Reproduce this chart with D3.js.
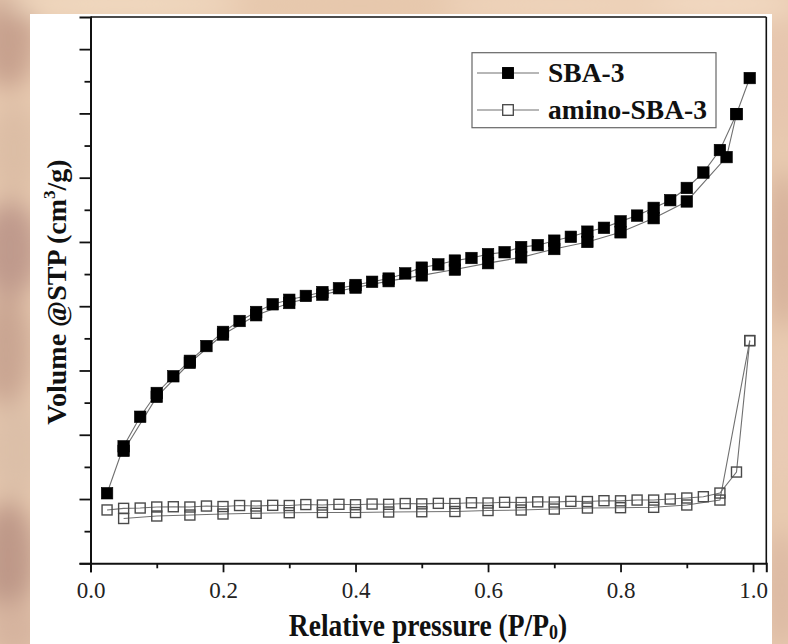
<!DOCTYPE html>
<html><head><meta charset="utf-8">
<script src="https://cdn.jsdelivr.net/npm/d3@7"></script>
<style>html,body{margin:0;padding:0;overflow:hidden;background:#e9cdb2;}</style>
</head><body>
<script>
// ---- data ----
const sbaAdsX = [0.025,0.05,0.075,0.1,0.125,0.15,0.175,0.2,0.225,0.25,0.275,0.3,0.325,0.35,0.375,0.4,0.425,0.45,0.475,0.5,0.525,0.55,0.575,0.6,0.625,0.65,0.675,0.7,0.725,0.75,0.775,0.8,0.825,0.85,0.875,0.9,0.925,0.95,0.975,0.995];
const sbaAdsY = [109,182,228,265,291,315,338,360,377,391,403,410,416,422,428,433,438,443,451,460,465,471,475,481,484,492,495,502,508,516,522,532,541,553,565,584,608,643,699,755];
const sbaDesX = [0.975,0.96,0.9,0.85,0.8,0.75,0.7,0.65,0.6,0.55,0.5,0.45,0.4,0.35,0.3,0.25,0.2,0.15,0.1,0.05];
const sbaDesY = [699,632,563,537,515,500,489,476,467,457,448,439,429,418,405,386,356,312,259,175];
const aminoAdsX = sbaAdsX;
const aminoAdsY = [83,85.5,86,87.6,88,87.6,89.1,88.3,89.9,89.1,90.2,89.9,91.4,90.7,91.8,91.1,92.2,91.8,93,92.5,93.3,93,94.2,93.8,94.9,94.6,95.6,95.3,96.4,96.1,97.4,97.2,98.4,98.4,100,101.6,103.6,109.3,142,346.5];
const aminoDesX = [0.995,0.95,0.9,0.85,0.8,0.75,0.7,0.65,0.6,0.55,0.5,0.45,0.4,0.35,0.3,0.25,0.2,0.15,0.1,0.05];
const aminoDesY = [346.5,98.4,90.7,87.1,86.5,86,84.4,82.9,82.1,80.6,80.2,79.8,79,79,78.7,77.8,76.7,75.1,73.6,69.7];
const xTickValues = [0,0.2,0.4,0.6,0.8,1.0];
const xTickLabels = ["0.0","0.2","0.4","0.6","0.8","1.0"];
const xMinorTicks = [0.1,0.3,0.5,0.7,0.9];
const yMajorTicks = [0,100,200,300,400,500,600,700,800];
const yMinorTicks = [50,150,250,350,450,550,650,750];
const legendNames = ["SBA-3","amino-SBA-3"];
const xTitle = "Relative pressure (P/P";
const yTitle = "Volume @STP (cm";

const W = 788, H = 644;
const SERIF = "'Liberation Serif','Times New Roman',Times,serif";
const svg = d3.select("body").append("svg").attr("width", W).attr("height", H);

// background texture
const defs = svg.append("defs");
const f = defs.append("filter").attr("id","blur").attr("x","-50%").attr("y","-50%").attr("width","200%").attr("height","200%");
f.append("feGaussianBlur").attr("stdDeviation", 12);
svg.append("rect").attr("width",W).attr("height",H).attr("fill","#e8cab0");
const blobs = [
  [8,40,28,50,"#c7a18e"],[14,150,26,50,"#dcbda5"],[10,250,30,50,"#bf9a8c"],[6,350,26,60,"#c9a592"],[16,450,30,50,"#dcbfa8"],[8,560,28,60,"#be9888"],[14,630,30,30,"#d6b49f"],
  [120,4,120,12,"#f2dcc3"],[360,6,120,12,"#e6c7ab"],[560,5,120,12,"#f0d6bd"],[720,4,80,12,"#f4ddc6"],
  [782,80,16,60,"#e6c5ae"],[784,250,16,80,"#d4ae98"],[782,420,16,70,"#e9cbb6"],[782,590,18,60,"#dcb9a3"]
];
const bg = svg.append("g").attr("filter","url(#blur)");
blobs.forEach(b => bg.append("ellipse").attr("cx",b[0]).attr("cy",b[1]).attr("rx",b[2]).attr("ry",b[3]).attr("fill",b[4]));
svg.append("rect").attr("x",30).attr("y",14).attr("width",742).attr("height",640).attr("fill","#ffffff");

// scales
const x = d3.scaleLinear().domain([0,1.02]).range([90.5, 766.3]);
const y = d3.scaleLinear().domain([0,850]).range([563.3, 17]);

const g = svg.append("g");

// frame top/right
g.append("line").attr("x1",x(0)).attr("x2",x(1.02)).attr("y1",y(850)).attr("y2",y(850)).attr("stroke","#111").attr("stroke-width",1.6);
g.append("line").attr("x1",x(1.02)).attr("x2",x(1.02)).attr("y1",y(0)).attr("y2",y(850)).attr("stroke","#111").attr("stroke-width",1.6);

// x axis
const xAxis = d3.axisBottom(x).tickValues(xTickValues).tickSize(9).tickPadding(9)
  .tickFormat((d,i) => xTickLabels[i]);
const gx = g.append("g").attr("transform",`translate(0,${y(0)})`).call(xAxis);
gx.select(".domain").attr("stroke","#111").attr("stroke-width",2);
gx.selectAll(".tick line").attr("stroke","#111").attr("stroke-width",1.8);
gx.selectAll(".tick text").attr("font-family",SERIF).attr("font-size",23).attr("fill","#222");
const gxm = g.append("g").attr("transform",`translate(0,${y(0)})`).call(d3.axisBottom(x).tickValues(xMinorTicks).tickSize(5).tickFormat(""));
gxm.select(".domain").remove();
gxm.selectAll(".tick line").attr("stroke","#111").attr("stroke-width",1.8);

// y axis
const gy = g.append("g").attr("transform",`translate(${x(0)},0)`).call(d3.axisLeft(y).tickValues(yMajorTicks).tickSize(11).tickFormat(""));
gy.select(".domain").attr("stroke","#111").attr("stroke-width",2);
gy.selectAll(".tick line").attr("stroke","#111").attr("stroke-width",1.8);
const gym = g.append("g").attr("transform",`translate(${x(0)},0)`).call(d3.axisLeft(y).tickValues(yMinorTicks).tickSize(6).tickFormat(""));
gym.select(".domain").remove();
gym.selectAll(".tick line").attr("stroke","#111").attr("stroke-width",1.8);

// lines
const line = d3.line().x(d => x(d[0])).y(d => y(d[1]));
const zip = (a,b) => a.map((v,i) => [v,b[i]]);
const series = [
  {pts: zip(aminoAdsX, aminoAdsY), filled:false},
  {pts: zip(aminoDesX, aminoDesY), filled:false},
  {pts: zip(sbaAdsX, sbaAdsY), filled:true},
  {pts: zip(sbaDesX, sbaDesY), filled:true}
];
series.forEach(s => {
  g.append("path").datum(s.pts).attr("d",line).attr("fill","none").attr("stroke","#707070").attr("stroke-width",1.1);
});
series.forEach(s => {
  const sz = s.filled ? 11.5 : 10;
  g.append("g").selectAll("rect").data(s.pts).join("rect")
    .attr("x", d => x(d[0]) - sz/2).attr("y", d => y(d[1]) - sz/2)
    .attr("width", sz).attr("height", sz)
    .attr("fill", s.filled ? "#000" : "#fff")
    .attr("fill-opacity", s.filled ? 1 : 0)
    .attr("stroke", s.filled ? "#000" : "#4a4a4a").attr("stroke-width", s.filled ? 0.6 : 1.4);
});

// legend
const lg = g.append("g");
lg.append("rect").attr("x",472).attr("y",52.7).attr("width",244).attr("height",75).attr("fill","#fff").attr("stroke","#666").attr("stroke-width",1.2);
legendNames.forEach((name,i) => {
  const cy = 73 + i*37;
  lg.append("line").attr("x1",477).attr("x2",539).attr("y1",cy).attr("y2",cy).attr("stroke","#707070").attr("stroke-width",1.1);
  lg.append("rect").attr("x",508-5.3).attr("y",cy-5.3).attr("width",10.6).attr("height",10.6)
    .attr("fill", i===0 ? "#000" : "#fff").attr("stroke", i===0 ? "#000" : "#444").attr("stroke-width",1.3);
  lg.append("text").attr("x",548).attr("y",cy+8.5).text(name)
    .attr("font-family",SERIF).attr("font-weight","bold").attr("font-size",27.5).attr("fill","#111");
});

// axis titles
const xt = g.append("text").attr("transform","translate(428,635.5) scale(1,1.12)").attr("text-anchor","middle")
  .attr("font-family",SERIF).attr("font-weight","bold").attr("font-size",27.5).attr("fill","#111");
xt.append("tspan").text(xTitle);
xt.append("tspan").attr("font-size",18).attr("dy",3).text("0");
xt.append("tspan").attr("dy",-3).text(")");

const yt = g.append("text").attr("transform","translate(66,292) rotate(-90)").attr("text-anchor","middle")
  .attr("font-family",SERIF).attr("font-weight","bold").attr("font-size",28).attr("fill","#111");
yt.append("tspan").text(yTitle);
yt.append("tspan").attr("font-size",17).attr("dy",-11).text("3");
yt.append("tspan").attr("dy",11).text("/g)");
</script>
</body></html>
